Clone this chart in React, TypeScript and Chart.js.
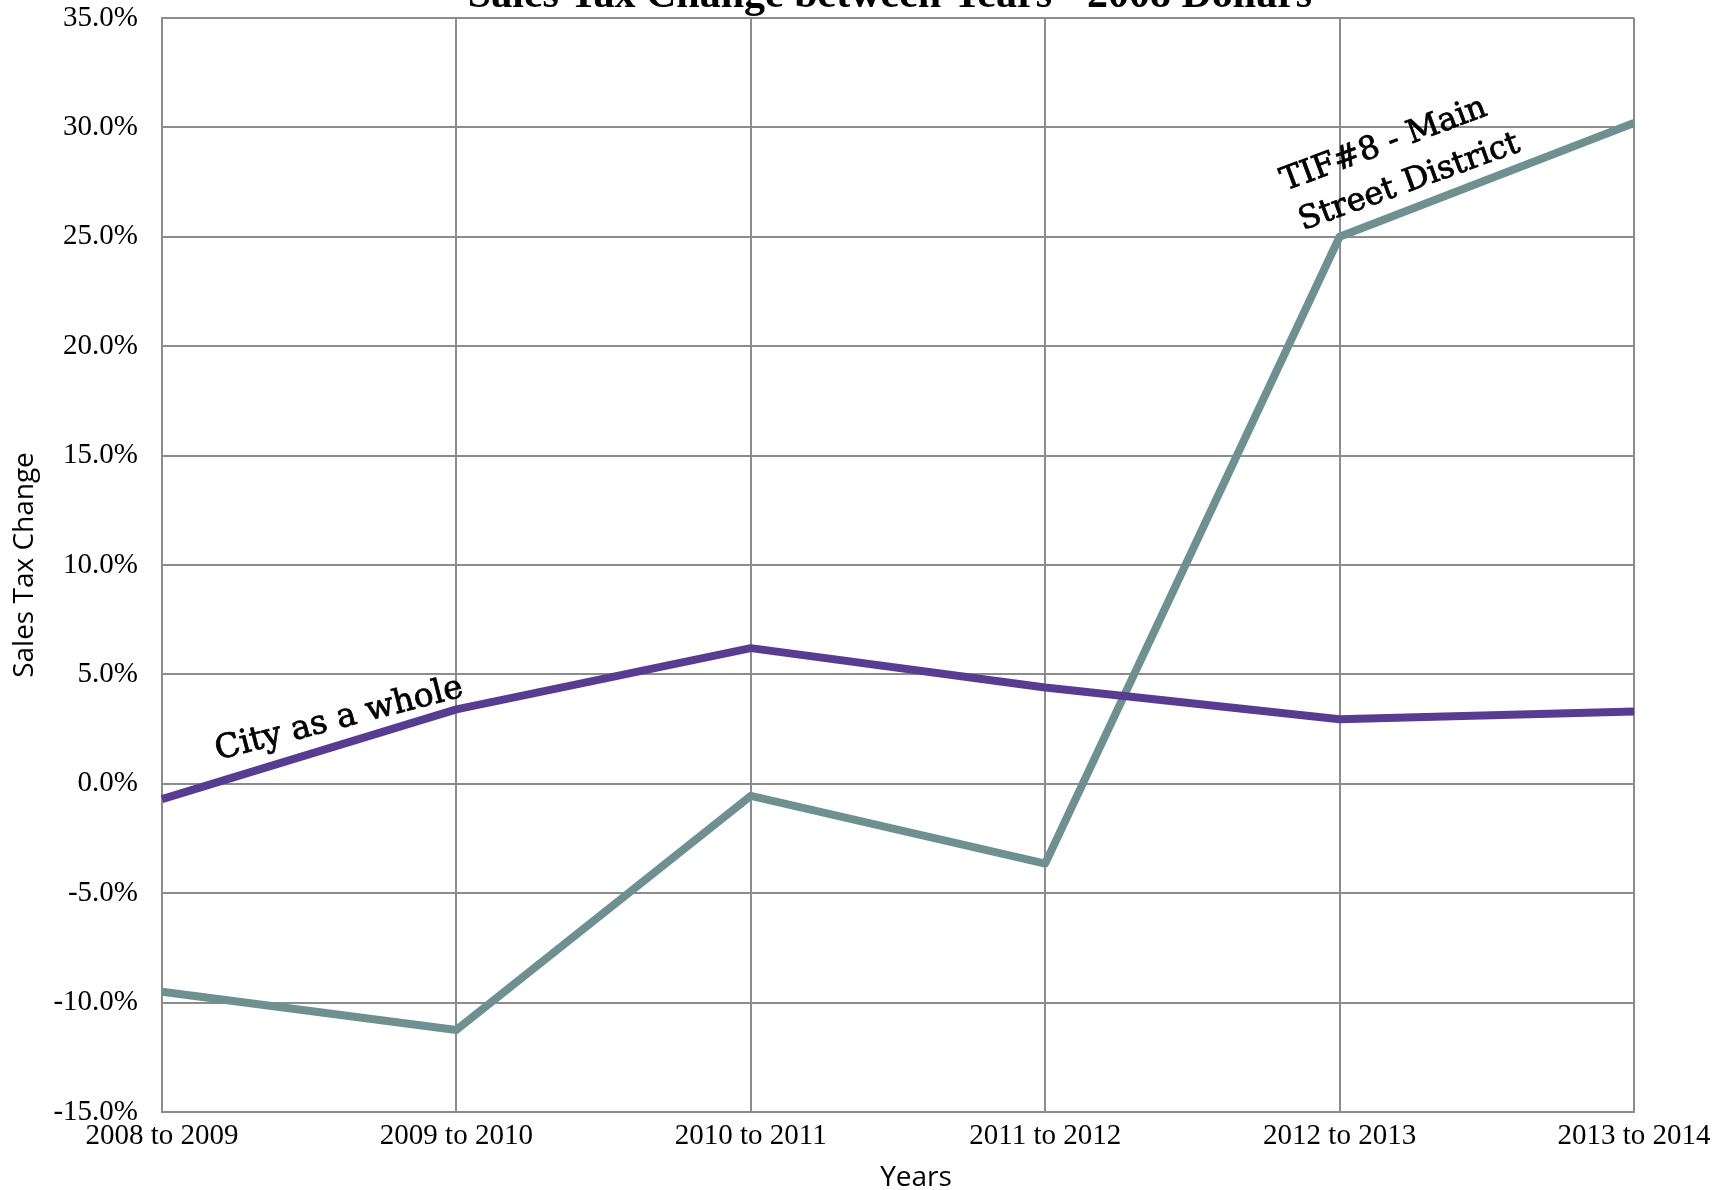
import React, { useEffect, useRef } from "react";
import { Chart, registerables } from "chart.js";

Chart.register(...registerables);

const categories = ["2008 to 2009", "2009 to 2010", "2010 to 2011", "2011 to 2012", "2012 to 2013", "2013 to 2014"];
const cityValues = [-0.7, 3.4, 6.2, 4.4, 2.95, 3.3];
const tifValues = [-9.5, -11.25, -0.55, -3.65, 25.0, 30.2];
const yMin = -15;
const yMax = 35;
const yStep = 5;
const titleText = "Sales Tax Change between Years - 2008 Dollars";
const xTitle = "Years";
const yTitle = "Sales Tax Change";
const cityLabel = "City as a whole";
const tifLabelLines = ["TIF#8 - Main", "Street District"];

const GRID = "#8c8c8c";
const PURPLE = "#583c91";
const TEAL = "#6e9090";

const textPlugin = {
  id: "customText",
  afterDraw(chart: any) {
    const ctx = chart.ctx;
    const area = chart.chartArea;
    const xs = chart.scales.x;
    const ys = chart.scales.y;
    ctx.save();
    ctx.fillStyle = "#000";
    ctx.strokeStyle = "#000";
    // title (clipped at top)
    ctx.font = "bold 42px 'Liberation Serif'";
    ctx.textAlign = "center";
    ctx.textBaseline = "alphabetic";
    ctx.fillText(titleText, 890, 7);
    // axis titles
    ctx.font = "28px 'Open Sans'";
    ctx.fillText(xTitle, 916, 1186);
    ctx.save();
    ctx.translate(33, (area.top + area.bottom) / 2);
    ctx.rotate(-Math.PI / 2);
    ctx.textAlign = "center";
    ctx.fillText(yTitle, 0, 0);
    ctx.restore();
    // annotations
    ctx.textAlign = "left";
    ctx.lineWidth = 0.8;
    const draw = (t: string) => {
      ctx.fillText(t, 0, 0);
      ctx.strokeText(t, 0, 0);
    };
    ctx.font = "33px 'DejaVu Serif'";
    ctx.save();
    ctx.translate(xs.getPixelForValue(0.19), ys.getPixelForValue(1.1));
    ctx.rotate((-14.5 * Math.PI) / 180);
    draw(cityLabel);
    ctx.restore();
    ctx.font = "32px 'DejaVu Serif'";
    ctx.save();
    ctx.translate(xs.getPixelForValue(3.815), ys.getPixelForValue(27.1));
    ctx.rotate((-20.5 * Math.PI) / 180);
    draw(tifLabelLines[0]);
    ctx.restore();
    ctx.save();
    ctx.translate(xs.getPixelForValue(3.876), ys.getPixelForValue(25.3));
    ctx.rotate((-20 * Math.PI) / 180);
    draw(tifLabelLines[1]);
    ctx.restore();
    ctx.restore();
  },
};

export default function App() {
  const ref = useRef<HTMLCanvasElement>(null);
  useEffect(() => {
    if (!ref.current) return;
    const chart = new Chart(ref.current, {
      type: "line",
      data: {
        labels: categories,
        datasets: [
          {
            label: "City as a whole",
            data: cityValues,
            borderColor: PURPLE,
            borderWidth: 8,
            pointRadius: 0,
            tension: 0,
            borderJoinStyle: "round",
          },
          {
            label: "TIF#8 - Main Street District",
            data: tifValues,
            borderColor: TEAL,
            borderWidth: 8,
            pointRadius: 0,
            tension: 0,
            borderJoinStyle: "round",
          },
        ],
      },
      options: {
        responsive: false,
        animation: false,
        devicePixelRatio: 1,
        layout: { padding: { left: 0, top: 18, right: 92, bottom: 0 } },
        plugins: {
          legend: { display: false },
          title: { display: false },
          tooltip: { enabled: false },
        },
        scales: {
          x: {
            offset: false,
            grid: { color: GRID, lineWidth: 2, drawTicks: false },
            border: { color: GRID, width: 2 },
            ticks: {
              color: "#000",
              font: { family: "'Liberation Serif'", size: 29 },
              padding: 7,
              maxRotation: 0,
              autoSkip: false,
            },
            afterFit: (s: any) => {
              s.height = 78;
              s.paddingLeft = 0;
              s.paddingRight = 0;
            },
          },
          y: {
            min: yMin,
            max: yMax,
            grid: { color: GRID, lineWidth: 2, drawTicks: false },
            border: { color: GRID, width: 2 },
            ticks: {
              stepSize: yStep,
              color: "#000",
              font: { family: "'Liberation Serif'", size: 29 },
              padding: 24,
              callback: (v: any) => Number(v).toFixed(1) + "%",
            },
            afterFit: (s: any) => {
              s.width = 162;
              s.paddingTop = 0;
              s.paddingBottom = 0;
            },
          },
        },
      },
      plugins: [textPlugin],
    });
    return () => chart.destroy();
  }, []);
  return (
    <div style={{ position: "absolute", left: 0, top: 0, width: 1726, height: 1190, background: "#fff" }}>
      <canvas ref={ref} width={1726} height={1190} style={{ display: "block" }} />
    </div>
  );
}
